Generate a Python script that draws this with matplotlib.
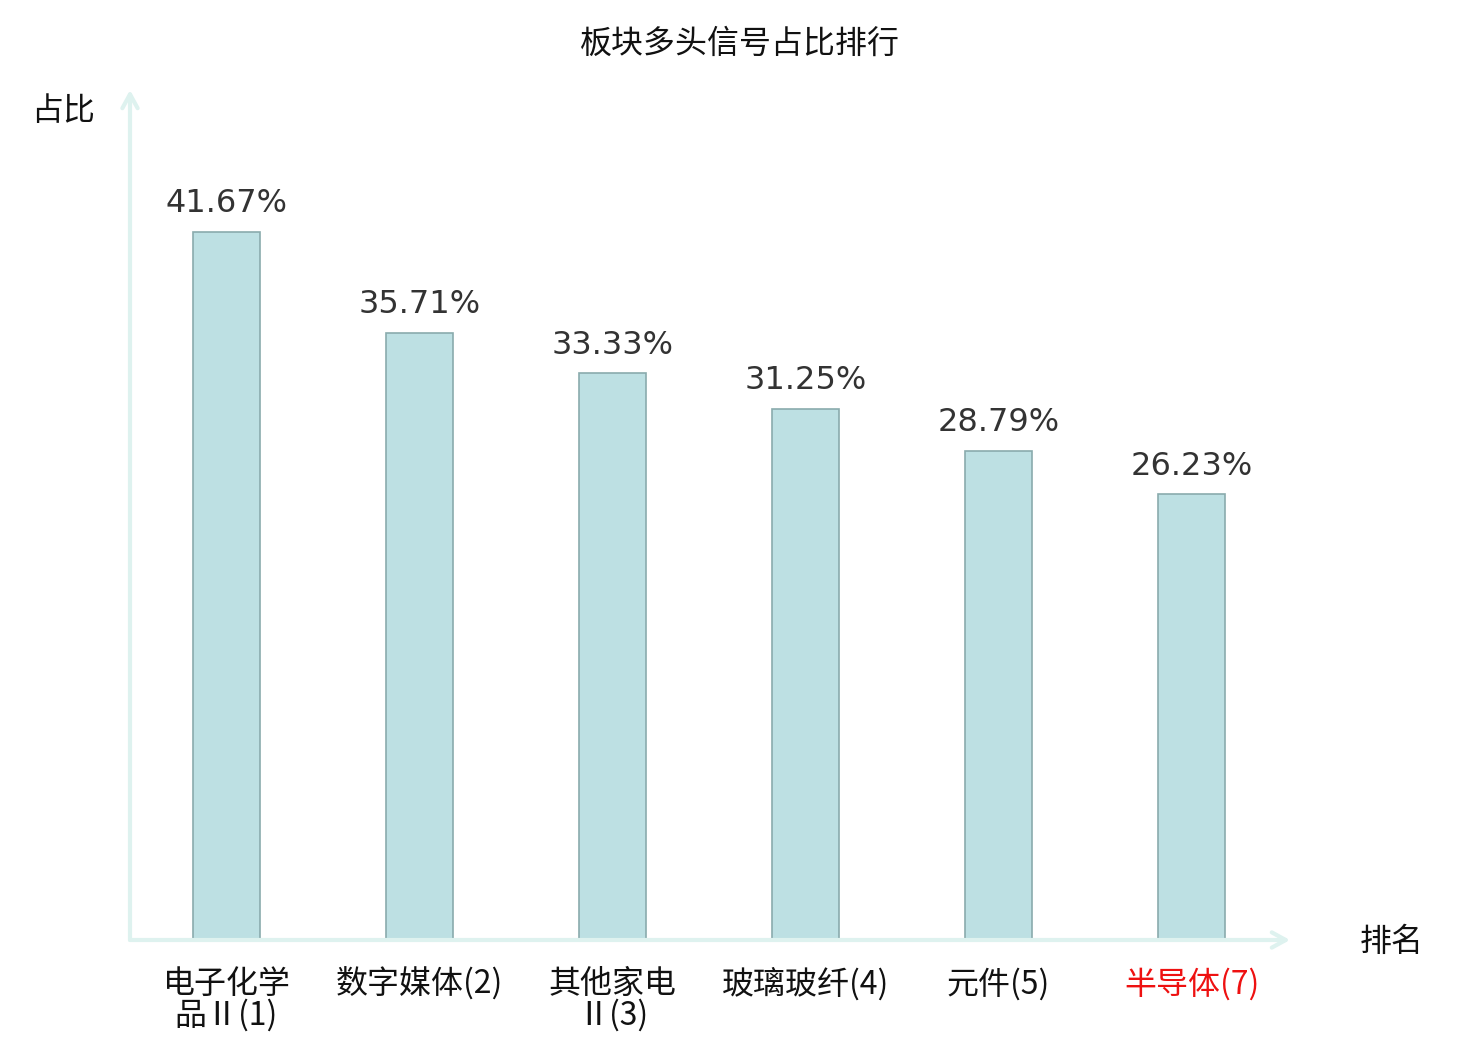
import matplotlib
matplotlib.use("Agg")
import matplotlib.pyplot as plt

plt.rcParams['font.family'] = ['Noto Sans CJK SC', 'DejaVu Sans']

categories = ['电子化学\n品Ⅱ(1)', '数字媒体(2)', '其他家电\nⅡ(3)', '玻璃玻纤(4)', '元件(5)', '半导体(7)']
values = [41.67, 35.71, 33.33, 31.25, 28.79, 26.23]
label_colors = ['#111111', '#111111', '#111111', '#111111', '#111111', '#ee1111']

axis_color = '#def2ef'
bar_color = '#bde0e3'
edge_color = '#8aabad'

fig = plt.figure(figsize=(14.8, 10.4), dpi=100)
ax = fig.add_axes([130 / 1480, 100 / 1040, 1160 / 1480, 850 / 1040])

x = list(range(len(categories)))
bars = ax.bar(x, values, width=0.35, color=bar_color, edgecolor=edge_color, linewidth=1.2, zorder=3)

for xi, v in zip(x, values):
    ax.annotate(f'{v:.2f}%', (xi, v), xytext=(0, 9), textcoords='offset points',
                ha='center', va='bottom', fontsize=23, color='#333333', family='DejaVu Sans')

ax.set_xlim(-0.5, 5.51)
ax.set_ylim(0, 50)
for s in ax.spines.values():
    s.set_visible(False)
ax.set_yticks([])
ax.set_xticks(x)
ax.set_xticklabels(categories, fontsize=23, linespacing=0.95)
for lbl, c in zip(ax.get_xticklabels(), label_colors):
    lbl.set_color(c)
ax.tick_params(axis='x', length=0, pad=20)

# axis arrows
arrow_kw = dict(arrowstyle='->,head_length=1.0,head_width=0.55', color=axis_color, lw=3,
                shrinkA=0, shrinkB=0)
ax.annotate('', xy=(0, 1.0), xytext=(0, 0), xycoords='axes fraction',
            arrowprops=arrow_kw, annotation_clip=False)
ax.annotate('', xy=(1.0, 0), xytext=(0, 0), xycoords='axes fraction',
            arrowprops=arrow_kw, annotation_clip=False)

fig.text(63 / 1480, 1 - 111 / 1040, '占比', ha='center', va='center', fontsize=23, color='#111111')
fig.text(1392 / 1480, 1 - 942 / 1040, '排名', ha='center', va='center', fontsize=23, color='#111111')
fig.text(0.5, 1 - 44 / 1040, '板块多头信号占比排行', ha='center', va='center', fontsize=23, color='#111111')

fig.savefig('out.png', dpi=100, facecolor='white')
